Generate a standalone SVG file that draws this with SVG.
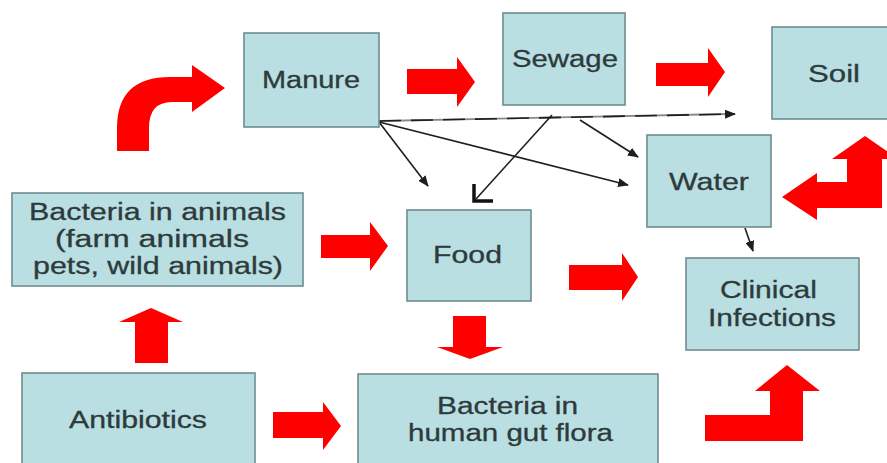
<svg xmlns="http://www.w3.org/2000/svg" width="887" height="463" viewBox="0 0 887 463">
<defs>
<style>
.box{fill:#b9dfe3;stroke:#6e8c8e;stroke-width:1.6}
.lbl{font-family:"Liberation Sans",Arial,sans-serif;font-size:23px;fill:#2e3a3b;stroke:#2e3a3b;stroke-width:0.3}
.red{fill:#ff0000}
.thin{stroke:#1e1e1e;stroke-width:1.6;fill:none}
</style>
<marker id="ah" markerWidth="11" markerHeight="9" refX="10" refY="4.5" orient="auto" markerUnits="userSpaceOnUse">
<path d="M0,0 L11,4.5 L0,9 Z" fill="#1e1e1e"/>
</marker>
</defs>
<rect width="887" height="463" fill="#ffffff"/>

<g id="connectors">
<path class="red" d="M117,151 L117,128 Q117,77 170,77 L192,77 L192,65 L225,88 L192,112 L192,102 L172,102 Q149,102 149,128 L149,151 Z"/>
<polygon class="red" points="407,69 457,69 457,57 475,82 457,107 457,94 407,94"/>
<polygon class="red" points="656,63 708,63 708,48 725,72 708,97 708,86 656,86"/>
<polygon class="red" points="321,235 370,235 370,222 388,246 370,271 370,258 321,258"/>
<polygon class="red" points="273,412 323,412 323,402 341,426 323,450 323,438 273,438"/>
<polygon class="red" points="569,265 622,265 622,253 638,277 622,301 622,290 569,290"/>
<polygon class="red" points="135,363 135,322 119,322 151,308 183,322 168,322 168,363"/>
<polygon class="red" points="453,316 486,316 486,347 503,347 470,359 437,347 453,347"/>
<polygon class="red" points="705,415 770,415 770,391 755,391 787,365 820,391 803,391 803,441 705,441"/>
<polygon class="red" points="782,197 817,173 817,182 847,182 847,159 832,159 865,136 898,159 882,159 882,208 817,208 817,220"/>
<line class="thin" x1="379" y1="122" x2="428" y2="186" marker-end="url(#ah)"/>
<line x1="379" y1="121" x2="728" y2="114" stroke="#8a8a8a" stroke-width="1.8"/>
<line class="thin" x1="379" y1="121" x2="735" y2="114" stroke-dasharray="22 10" marker-end="url(#ah)"/>
<line class="thin" x1="379" y1="122" x2="628" y2="185" marker-end="url(#ah)"/>
<line class="thin" x1="552" y1="115" x2="476" y2="199" stroke-width="2"/>
<path d="M474,184 L474,201 L493,201" fill="none" stroke="#111" stroke-width="3.5"/>
<line class="thin" x1="580" y1="120" x2="638" y2="157" marker-end="url(#ah)"/>
<line class="thin" x1="745" y1="228" x2="753" y2="251" marker-end="url(#ah)"/>
</g>

<g id="manure">
<rect class="box" x="244" y="33" width="135" height="94"/>
<text class="lbl" x="262" y="88" textLength="98" lengthAdjust="spacingAndGlyphs">Manure</text>
</g>
<g id="sewage">
<rect class="box" x="503" y="13" width="122" height="92"/>
<text class="lbl" x="512" y="67" textLength="106" lengthAdjust="spacingAndGlyphs">Sewage</text>
</g>
<g id="soil">
<rect class="box" x="772" y="27" width="120" height="92"/>
<text class="lbl" x="808" y="82" textLength="52" lengthAdjust="spacingAndGlyphs">Soil</text>
</g>
<g id="water">
<rect class="box" x="647" y="135" width="124" height="92"/>
<text class="lbl" x="669" y="190" textLength="80" lengthAdjust="spacingAndGlyphs">Water</text>
</g>
<g id="bacteria-animals">
<rect class="box" x="12" y="193" width="291" height="93"/>
<text class="lbl" x="29" y="220" textLength="257" lengthAdjust="spacingAndGlyphs">Bacteria in animals</text>
<text class="lbl" x="55" y="247" textLength="194" lengthAdjust="spacingAndGlyphs">(farm animals</text>
<text class="lbl" x="33" y="274" textLength="250" lengthAdjust="spacingAndGlyphs">pets, wild animals)</text>
</g>
<g id="food">
<rect class="box" x="407" y="210" width="124" height="91"/>
<text class="lbl" x="433" y="263" textLength="69" lengthAdjust="spacingAndGlyphs">Food</text>
</g>
<g id="clinical">
<rect class="box" x="686" y="258" width="173" height="92"/>
<text class="lbl" x="720" y="298" textLength="97" lengthAdjust="spacingAndGlyphs">Clinical</text>
<text class="lbl" x="708" y="326" textLength="128" lengthAdjust="spacingAndGlyphs">Infections</text>
</g>
<g id="antibiotics">
<rect class="box" x="22" y="373" width="233" height="100"/>
<text class="lbl" x="69" y="428" textLength="138" lengthAdjust="spacingAndGlyphs">Antibiotics</text>
</g>
<g id="gut-flora">
<rect class="box" x="358" y="374" width="300" height="100"/>
<text class="lbl" x="437" y="414" textLength="141" lengthAdjust="spacingAndGlyphs">Bacteria in</text>
<text class="lbl" x="408" y="441" textLength="205" lengthAdjust="spacingAndGlyphs">human gut flora</text>
</g>
</svg>
